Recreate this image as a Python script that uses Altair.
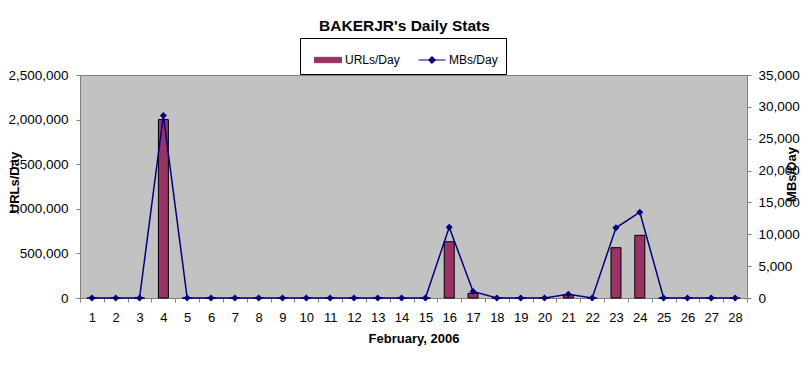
import altair as alt
import pandas as pd

days = list(range(1, 29))
urls = [0, 0, 0, 2000000, 0, 0, 0, 0, 0, 0, 0, 0, 0, 0, 0, 631000, 52000, 0, 0, 0,
        37000, 0, 564000, 703000, 0, 0, 0, 0]
mbs = [0, 0, 0, 28640, 0, 0, 0, 0, 0, 0, 0, 0, 0, 0, 0, 11110, 1020, 0, 0, 0,
       600, 0, 11020, 13470, 0, 0, 0, 0]
series = ["URLs/Day", "MBs/Day"]
colors = ["#993366", "#000080"]
url_ticks = [0, 500000, 1000000, 1500000, 2000000, 2500000]
mb_ticks = [0, 5000, 10000, 15000, 20000, 25000, 30000, 35000]

df = pd.DataFrame({"day": days, "urls": urls, "mbs": mbs})

FONT = "Liberation Sans"

legend = alt.Legend(
    title=None,
    orient="none",
    legendX=220,
    legendY=-37,
    direction="horizontal",
    strokeColor="#000000",
    fillColor="#FFFFFF",
    padding=8,
    symbolOffset=6,
    columnPadding=12,
    labelOffset=3,
    labelFont=FONT,
    labelFontSize=12,
    labelColor="#000000",
    symbolSize=729,
    symbolStrokeWidth=1,
    symbolType={"expr": "datum.value == 'URLs/Day' ? 'M-1,-0.2H1V0.2H-1Z' : 'M-1,0H1M0,-0.26L0.26,0L0,0.26L-0.26,0Z'"},
    symbolFillColor={"expr": "datum.value == 'URLs/Day' ? '#993366' : '#000080'"},
    symbolStrokeColor={"expr": "datum.value == 'URLs/Day' ? '#000000' : '#000080'"},
)

color = alt.Color("series:N", scale=alt.Scale(domain=series, range=colors), legend=legend)

x = alt.X(
    "day:O",
    scale=alt.Scale(paddingInner=0, paddingOuter=0),
    axis=alt.Axis(
        title="February, 2006",
        labelAngle=0,
        tickBand="extent",
        tickSize=4,
        tickColor="#808080",
        domainColor="#808080",
        labelFont=FONT,
        labelFontSize=13,
        labelColor="#000000",
        labelPadding=9,
        titleFont=FONT,
        titleFontSize=13,
        titleFontWeight="bold",
        titleColor="#000000",
        titleY=34,
    ),
)

base = alt.Chart(df)

bars = base.transform_calculate(series="'URLs/Day'").mark_bar(
    size=10, stroke="#000000", strokeWidth=1
).encode(
    x=x,
    y=alt.Y(
        "urls:Q",
        scale=alt.Scale(domain=[0, 2500000]),
        axis=alt.Axis(
            values=url_ticks,
            format=",d",
            title="URLs/Day",
            grid=False,
            tickSize=4,
            tickColor="#808080",
            domainColor="#808080",
            labelFont=FONT,
            labelFontSize=13.5,
            labelColor="#000000",
            labelPadding=8,
            titleFont=FONT,
            titleFontSize=13,
            titleFontWeight="bold",
            titleColor="#000000",
            titleAngle=270,
            titleX=-59,
            titleY=107,
        ),
    ),
    color=color,
)

line = base.transform_calculate(series="'MBs/Day'").mark_line(
    strokeWidth=1.5,
    point=alt.OverlayMarkDef(shape="diamond", size=50, filled=True),
).encode(
    x=x,
    y=alt.Y(
        "mbs:Q",
        scale=alt.Scale(domain=[0, 35000]),
        axis=alt.Axis(
            orient="right",
            values=mb_ticks,
            format=",d",
            title="MBs/Day",
            grid=False,
            tickSize=4,
            tickColor="#808080",
            domainColor="#808080",
            labelFont=FONT,
            labelFontSize=13.5,
            labelColor="#000000",
            labelPadding=7,
            titleFont=FONT,
            titleFontSize=13,
            titleFontWeight="bold",
            titleColor="#000000",
            titleAngle=270,
            titleX=51,
            titleY=99,
        ),
    ),
    color=color,
)

chart = (
    alt.layer(bars, line)
    .resolve_scale(y="independent")
    .properties(
        width=667,
        height=223,
        title=alt.TitleParams(
            "BAKERJR's Daily Stats",
            font=FONT,
            fontSize=15.5,
            fontWeight="bold",
            color="#000000",
            anchor="middle",
            dx=-9,
            dy=1,
        ),
        autosize=alt.AutoSizeParams(type="none"),
        padding={"left": 72, "top": 67, "right": 54, "bottom": 83},
        background="#FFFFFF",
    )
    .configure_view(fill="#C2C2C2", stroke="#808080", strokeWidth=1)
)

chart.save("out.html", embed_options={"renderer": "svg", "actions": False})
